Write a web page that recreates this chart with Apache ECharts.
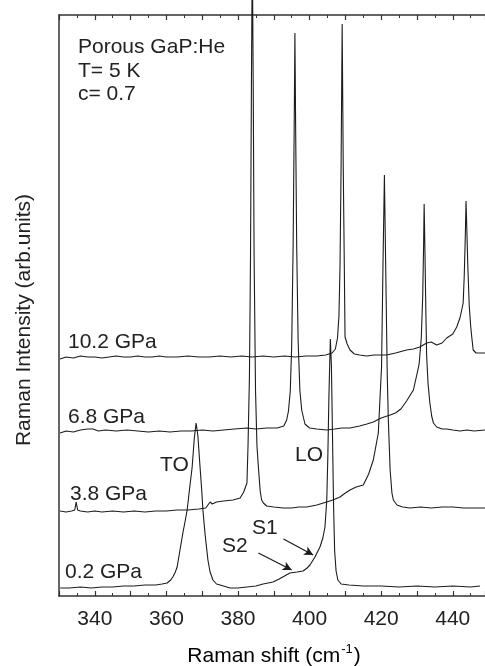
<!DOCTYPE html>
<html>
<head>
<meta charset="utf-8">
<script src="https://cdn.jsdelivr.net/npm/echarts@6/dist/echarts.min.js"></script>
<style>
html, body { margin: 0; padding: 0; background: #fff; }
#chart { width: 485px; height: 666px; }
</style>
</head>
<body>
<div id="chart"></div>
<script>
// Raman spectra, [shift (cm-1), intensity (arb. units, vertically offset as in the figure)]
var spec02 = [[330.3,8],[333,8],[336,9],[339,8],[342,9],[345,9],[348,10],[351,10],[354,11],[357,11],[358.8,12],[360.2,13],[361.2,16],[361.8,19],[362.5,24],[363.0,29],[363.8,46],[364.6,63],[365.3,76],[365.8,86],[366.5,108],[367.2,129],[367.8,158],[368.3,173],[368.8,160],[369.4,129],[369.9,104],[370.2,86],[370.8,62],[371.6,36],[372.2,24],[373.0,16],[374.0,12],[375.0,11],[377.8,8],[380,8],[382.5,9],[385,10],[387,12],[389.8,14],[391.5,17],[393,20],[394.5,23],[396.5,24],[398.2,25],[399.3,28],[400.1,31],[401.5,39],[402.9,49],[403.7,58],[404.3,69],[404.8,96],[405.1,140],[405.4,200],[405.8,257],[406.1,230],[406.4,160],[406.7,90],[407.0,45],[407.4,25],[407.9,16],[408.8,12],[411,11],[415,10],[420,10],[425,9],[430,10],[435,9],[440,10],[445,9],[447.6,10]];

var spec38 = [[330.3,85],[332,84],[333.5,85],[334.4,86],[334.8,94],[335.2,86],[336,85],[338,84],[340,85],[342,84],[345,85],[348,84],[351,85],[354,84],[357,85],[360,85],[363,86],[366,86],[369,87],[371,88],[371.6,91],[372.2,94],[372.8,92],[374,94],[376,95],[378.6,96],[380.6,98],[381.6,104],[382.5,113],[382.8,150],[383.2,220],[383.5,340],[383.75,510],[384.0,650],[384.25,510],[384.5,340],[384.9,205],[385.3,150],[385.7,129],[386.2,105],[386.6,96],[387.1,93],[388,90],[390,89],[392.7,88],[395,88],[397,89],[399.2,89],[402,91],[404.8,94],[406.5,96],[408.5,99],[410,103],[411.3,106],[413,109],[415.0,111],[416.5,122],[417.8,136],[419.2,163],[420.1,229],[420.5,330],[420.9,421],[421.3,320],[421.7,220],[422.0,176],[422.5,126],[423.0,103],[423.4,96],[424.4,91],[426,89],[428,88],[431,89],[434,88],[437,89],[440,89],[443,88],[446,88],[449,88]];

var spec68 = [[330.3,163],[332,165],[334,164],[336,166],[338,167],[339.5,167],[341,165],[343,166],[346,165],[349,166],[352,165],[355,164],[358,165],[361,164],[364,165],[367,165],[370,166],[373,165],[376,166],[379,167],[382.5,168],[385,167],[388,168],[391,168],[392.8,170],[393.6,176],[394.1,185],[394.6,205],[395.0,250],[395.4,350],[395.7,470],[395.9,563],[396.1,470],[396.4,350],[396.8,255],[397.3,205],[397.8,186],[398.7,172],[400.0,168],[402,167],[404.8,166],[407,167],[409,168],[411.3,168],[414,170],[416,172],[417.8,174],[420,178],[422.5,181],[424,183],[425.5,187],[427.1,195],[429.0,206],[430.0,222],[430.6,232],[431.2,258],[431.6,300],[431.85,350],[432.0,392],[432.2,350],[432.5,280],[432.7,240],[433.1,212],[433.6,193],[434.1,180],[434.6,173],[435.5,169],[437,167],[438.3,167],[440,166],[442,165],[444,166],[446,165],[449,166]];

var spec102 = [[330.3,237],[332,239],[334,238],[336,240],[338,239],[340,239],[342,238],[344,239],[346,240],[348,239],[350,239],[352,240],[354,239],[356,239],[358,240],[360,239],[363,239],[366,240],[369,239],[372,239],[375,240],[378,239],[381,240],[384,239],[387,240],[390,239],[393,240],[396,239],[399,240],[402,240],[404.5,241],[406.3,243],[407.2,247],[407.8,258],[408.2,280],[408.5,330],[408.8,430],[409.1,572],[409.4,430],[409.7,330],[409.9,259],[410.5,252],[411.3,246],[412.5,242],[414,241],[416,240],[418,241],[421.5,241],[424,243],[427.1,246],[429,247],[430.8,249],[432.7,253],[434,254],[435.5,251],[437,253],[438.3,258],[440,262],[441.1,269],[442,278],[442.5,286],[442.9,293],[443.2,320],[443.5,360],[443.7,395],[443.9,370],[444.2,330],[444.6,290],[445.0,270],[445.3,259],[445.7,246],[446.5,243],[448,243],[449,243]];

// shoulder arrows S1 / S2 on the 0.2 GPa curve: [from, to]
var arrowS1 = [[392.7,57],[401.0,41]];
var arrowS2 = [[385.7,43],[395.0,26]];

var xMin = 330, xMax = 449, xStep = 10;
var yMin = 0, yMax = 581;

var lineColor = '#1c1c1c';
var font = "'Liberation Sans', Arial, sans-serif";

var myChart = echarts.init(document.getElementById('chart'));

function spectrum(data) {
  return {
    type: 'line',
    data: data,
    showSymbol: false,
    clip: false,
    smooth: false,
    lineStyle: { color: lineColor, width: 1.1 },
    animation: false
  };
}

var s02 = spectrum(spec02);
s02.markLine = {
  silent: true,
  symbol: ['none', 'arrow'],
  symbolSize: [7, 9],
  label: { show: false },
  lineStyle: { color: lineColor, width: 1.2, type: 'solid' },
  data: [
    [{ coord: arrowS1[0] }, { coord: arrowS1[1] }],
    [{ coord: arrowS2[0] }, { coord: arrowS2[1] }]
  ]
};

function txt(text, x, y, size) {
  return {
    type: 'text', x: x, y: y, silent: true,
    style: { text: text, fill: '#222', font: (size || 21) + 'px ' + font, verticalAlign: 'middle' }
  };
}

var axisCommon = {
  type: 'value',
  min: xMin, max: xMax, interval: xStep,
  axisLine: { show: true, lineStyle: { color: '#333', width: 1.5 } },
  axisTick: { show: true, inside: true, length: 5, lineStyle: { color: '#333', width: 1.2 } },
  minorTick: { show: true, splitNumber: 2, length: 3, lineStyle: { color: '#333', width: 1 } },
  splitLine: { show: false }
};

var option = {
  backgroundColor: '#fff',
  animation: false,
  grid: { left: 59, right: 0, top: 15, bottom: 70 },
  xAxis: [
    Object.assign({}, axisCommon, {
      position: 'bottom',
      axisLabel: {
        show: true, color: '#222', fontSize: 21, fontFamily: font, margin: 13,
        showMaxLabel: false,
        formatter: function (v) { return v % 20 === 0 ? String(v) : ''; }
      }
    }),
    Object.assign({}, axisCommon, {
      position: 'top',
      axisLabel: { show: false }
    })
  ],
  yAxis: {
    type: 'value', min: yMin, max: yMax,
    axisLine: { show: true, lineStyle: { color: '#333', width: 1.5 } },
    axisTick: { show: false },
    axisLabel: { show: false },
    splitLine: { show: false }
  },
  series: [s02, spectrum(spec38), spectrum(spec68), spectrum(spec102)],
  graphic: [
    txt('Porous GaP:He', 78, 47),
    txt('T= 5 K', 78, 71),
    txt('c= 0.7', 78, 94),
    txt('10.2 GPa', 68, 342),
    txt('6.8 GPa', 68, 417),
    txt('3.8 GPa', 70, 494),
    txt('0.2 GPa', 65, 572),
    txt('TO', 160, 465),
    txt('LO', 295, 455),
    txt('S1', 252, 528),
    txt('S2', 222, 546),
    {
      type: 'text', x: 24, y: 320, rotation: Math.PI / 2, silent: true,
      style: { text: 'Raman Intensity (arb.units)', fill: '#222', font: '21px ' + font, align: 'center', verticalAlign: 'middle' }
    },
    {
      type: 'text', x: 274, y: 655, silent: true,
      style: {
        text: '{a|Raman shift (cm}{s|-1}{a|)}',
        align: 'center', verticalAlign: 'middle',
        rich: {
          a: { fontSize: 21, fontFamily: font, color: '#222', lineHeight: 24, verticalAlign: 'bottom' },
          s: { fontSize: 13, fontFamily: font, color: '#222', lineHeight: 24, verticalAlign: 'top', padding: [0, 1, 8, 1] }
        }
      }
    }
  ]
};

myChart.setOption(option);
</script>
</body>
</html>
